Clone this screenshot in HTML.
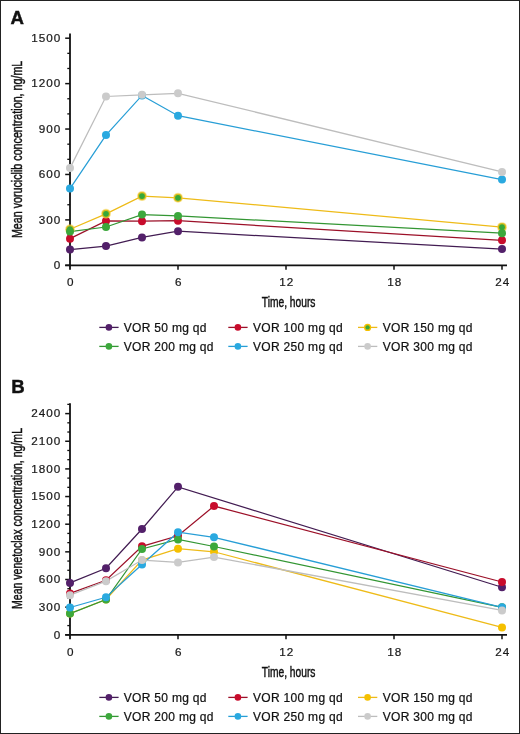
<!DOCTYPE html><html><head><meta charset="utf-8"><style>html,body{margin:0;padding:0;background:#fff;}svg{display:block;will-change:transform;}</style></head><body>
<svg width="520" height="734" viewBox="0 0 520 734">
<rect x="0" y="0" width="520" height="734" fill="#fff"/>
<rect x="0.5" y="0.5" width="519" height="733" fill="none" stroke="#222" stroke-width="1"/>
<g stroke="#111" fill="none">
<line x1="70" y1="33.6" x2="70" y2="269.8" stroke-width="1.8"/>
<line x1="65.2" y1="265.3" x2="507" y2="265.3" stroke-width="1.8"/>
<line x1="65.2" y1="265.30" x2="70" y2="265.30" stroke-width="1.5"/>
<line x1="65.2" y1="219.88" x2="70" y2="219.88" stroke-width="1.5"/>
<line x1="65.2" y1="174.46" x2="70" y2="174.46" stroke-width="1.5"/>
<line x1="65.2" y1="129.04" x2="70" y2="129.04" stroke-width="1.5"/>
<line x1="65.2" y1="83.62" x2="70" y2="83.62" stroke-width="1.5"/>
<line x1="65.2" y1="38.20" x2="70" y2="38.20" stroke-width="1.5"/>
<line x1="67.3" y1="250.16" x2="70" y2="250.16" stroke-width="1.3"/>
<line x1="67.3" y1="235.02" x2="70" y2="235.02" stroke-width="1.3"/>
<line x1="67.3" y1="204.74" x2="70" y2="204.74" stroke-width="1.3"/>
<line x1="67.3" y1="189.60" x2="70" y2="189.60" stroke-width="1.3"/>
<line x1="67.3" y1="159.32" x2="70" y2="159.32" stroke-width="1.3"/>
<line x1="67.3" y1="144.18" x2="70" y2="144.18" stroke-width="1.3"/>
<line x1="67.3" y1="113.90" x2="70" y2="113.90" stroke-width="1.3"/>
<line x1="67.3" y1="98.76" x2="70" y2="98.76" stroke-width="1.3"/>
<line x1="67.3" y1="68.48" x2="70" y2="68.48" stroke-width="1.3"/>
<line x1="67.3" y1="53.34" x2="70" y2="53.34" stroke-width="1.3"/>
<line x1="178.0" y1="265.3" x2="178.0" y2="269.8" stroke-width="1.5"/>
<line x1="286.0" y1="265.3" x2="286.0" y2="269.8" stroke-width="1.5"/>
<line x1="394.0" y1="265.3" x2="394.0" y2="269.8" stroke-width="1.5"/>
<line x1="502.0" y1="265.3" x2="502.0" y2="269.8" stroke-width="1.5"/>
</g>
<g font-family='"Liberation Sans", sans-serif' font-size="11.7" fill="#1a1a1a" stroke="#1a1a1a" stroke-width="0.22" letter-spacing="1.0">
<text x="61.3" y="269.10" text-anchor="end">0</text>
<text x="61.3" y="223.68" text-anchor="end">300</text>
<text x="61.3" y="178.26" text-anchor="end">600</text>
<text x="61.3" y="132.84" text-anchor="end">900</text>
<text x="61.3" y="87.42" text-anchor="end">1200</text>
<text x="61.3" y="42.00" text-anchor="end">1500</text>
<text x="70.75" y="285.70" text-anchor="middle">0</text>
<text x="178.75" y="285.70" text-anchor="middle">6</text>
<text x="286.75" y="285.70" text-anchor="middle">12</text>
<text x="394.75" y="285.70" text-anchor="middle">18</text>
<text x="502.75" y="285.70" text-anchor="middle">24</text>
</g>
<polyline points="70.00,249.55 106.00,246.07 142.00,237.44 178.00,231.24 502.00,249.10" fill="none" stroke="#421c52" stroke-width="1.25"/>
<polyline points="70.00,238.65 106.00,220.94 142.00,221.24 178.00,220.64 502.00,240.32" fill="none" stroke="#9c1028" stroke-width="1.25"/>
<polyline points="70.00,229.27 106.00,213.82 142.00,196.11 178.00,197.78 502.00,227.15" fill="none" stroke="#eebb18" stroke-width="1.25"/>
<polyline points="70.00,231.54 106.00,227.00 142.00,214.58 178.00,215.94 502.00,233.20" fill="none" stroke="#339633" stroke-width="1.25"/>
<polyline points="70.00,188.54 106.00,135.10 142.00,95.43 178.00,115.72 502.00,179.61" fill="none" stroke="#279ed6" stroke-width="1.25"/>
<polyline points="70.00,168.10 106.00,96.49 142.00,94.82 178.00,93.31 502.00,171.89" fill="none" stroke="#bdbdbd" stroke-width="1.25"/>
<circle cx="70.00" cy="249.55" r="4.0" fill="#53206a"/>
<circle cx="106.00" cy="246.07" r="4.0" fill="#53206a"/>
<circle cx="142.00" cy="237.44" r="4.0" fill="#53206a"/>
<circle cx="178.00" cy="231.24" r="4.0" fill="#53206a"/>
<circle cx="502.00" cy="249.10" r="4.0" fill="#53206a"/>
<circle cx="70.00" cy="238.65" r="4.0" fill="#c80c2c"/>
<circle cx="106.00" cy="220.94" r="4.0" fill="#c80c2c"/>
<circle cx="142.00" cy="221.24" r="4.0" fill="#c80c2c"/>
<circle cx="178.00" cy="220.64" r="4.0" fill="#c80c2c"/>
<circle cx="502.00" cy="240.32" r="4.0" fill="#c80c2c"/>
<circle cx="70.00" cy="229.27" r="5.0" fill="#f6d040" fill-opacity="0.55"/>
<circle cx="70.00" cy="229.27" r="4.1" fill="#d8bc1c"/>
<circle cx="70.00" cy="229.27" r="2.9" fill="#36a83a"/>
<circle cx="106.00" cy="213.82" r="5.0" fill="#f6d040" fill-opacity="0.55"/>
<circle cx="106.00" cy="213.82" r="4.1" fill="#d8bc1c"/>
<circle cx="106.00" cy="213.82" r="2.9" fill="#36a83a"/>
<circle cx="142.00" cy="196.11" r="5.0" fill="#f6d040" fill-opacity="0.55"/>
<circle cx="142.00" cy="196.11" r="4.1" fill="#d8bc1c"/>
<circle cx="142.00" cy="196.11" r="2.9" fill="#36a83a"/>
<circle cx="178.00" cy="197.78" r="5.0" fill="#f6d040" fill-opacity="0.55"/>
<circle cx="178.00" cy="197.78" r="4.1" fill="#d8bc1c"/>
<circle cx="178.00" cy="197.78" r="2.9" fill="#36a83a"/>
<circle cx="502.00" cy="227.15" r="5.0" fill="#f6d040" fill-opacity="0.55"/>
<circle cx="502.00" cy="227.15" r="4.1" fill="#d8bc1c"/>
<circle cx="502.00" cy="227.15" r="2.9" fill="#36a83a"/>
<circle cx="70.00" cy="231.54" r="4.0" fill="#3ca83c"/>
<circle cx="106.00" cy="227.00" r="4.0" fill="#3ca83c"/>
<circle cx="142.00" cy="214.58" r="4.0" fill="#3ca83c"/>
<circle cx="178.00" cy="215.94" r="4.0" fill="#3ca83c"/>
<circle cx="502.00" cy="233.20" r="4.0" fill="#3ca83c"/>
<circle cx="70.00" cy="188.54" r="4.0" fill="#2aa9e0"/>
<circle cx="106.00" cy="135.10" r="4.0" fill="#2aa9e0"/>
<circle cx="142.00" cy="95.43" r="4.0" fill="#2aa9e0"/>
<circle cx="178.00" cy="115.72" r="4.0" fill="#2aa9e0"/>
<circle cx="502.00" cy="179.61" r="4.0" fill="#2aa9e0"/>
<circle cx="70.00" cy="168.10" r="4.0" fill="#cbcbcb"/>
<circle cx="106.00" cy="96.49" r="4.0" fill="#cbcbcb"/>
<circle cx="142.00" cy="94.82" r="4.0" fill="#cbcbcb"/>
<circle cx="178.00" cy="93.31" r="4.0" fill="#cbcbcb"/>
<circle cx="502.00" cy="171.89" r="4.0" fill="#cbcbcb"/>
<text transform="translate(22.2,149.40) rotate(-90) scale(0.75,1)" font-family='"Liberation Sans", sans-serif' font-size="14.3" fill="#111" stroke="#111" stroke-width="0.45" text-anchor="middle">Mean voruciclib concentration, ng/mL</text>
<text transform="translate(288.6,306.50) scale(0.732,1)" font-family='"Liberation Sans", sans-serif' font-size="14" fill="#111" stroke="#111" stroke-width="0.45" text-anchor="middle">Time, hours</text>
<text x="10.6" y="23.60" font-family='"Liberation Sans", sans-serif' font-size="18.6" font-weight="bold" fill="#111" stroke="#111" stroke-width="0.45">A</text>
<line x1="99.3" y1="327.4" x2="118.6" y2="327.4" stroke="#421c52" stroke-width="1.3"/>
<circle cx="108.89999999999999" cy="327.4" r="3.3" fill="#53206a"/>
<text x="123.8" y="331.60" font-family='"Liberation Sans", sans-serif' font-size="12" letter-spacing="0.3" fill="#111" stroke="#111" stroke-width="0.22">VOR 50 mg qd</text>
<line x1="228.3" y1="327.4" x2="247.60000000000002" y2="327.4" stroke="#9c1028" stroke-width="1.3"/>
<circle cx="237.9" cy="327.4" r="3.3" fill="#c80c2c"/>
<text x="253" y="331.60" font-family='"Liberation Sans", sans-serif' font-size="12" letter-spacing="0.3" fill="#111" stroke="#111" stroke-width="0.22">VOR 100 mg qd</text>
<line x1="358" y1="327.4" x2="377.3" y2="327.4" stroke="#eebb18" stroke-width="1.3"/>
<circle cx="367.6" cy="327.4" r="3.6" fill="#f5c000"/>
<circle cx="367.6" cy="327.4" r="2.2" fill="#3ca83c"/>
<text x="382.8" y="331.60" font-family='"Liberation Sans", sans-serif' font-size="12" letter-spacing="0.3" fill="#111" stroke="#111" stroke-width="0.22">VOR 150 mg qd</text>
<line x1="99.3" y1="346.4" x2="118.6" y2="346.4" stroke="#339633" stroke-width="1.3"/>
<circle cx="108.89999999999999" cy="346.4" r="3.3" fill="#3ca83c"/>
<text x="123.8" y="350.60" font-family='"Liberation Sans", sans-serif' font-size="12" letter-spacing="0.3" fill="#111" stroke="#111" stroke-width="0.22">VOR 200 mg qd</text>
<line x1="228.3" y1="346.4" x2="247.60000000000002" y2="346.4" stroke="#279ed6" stroke-width="1.3"/>
<circle cx="237.9" cy="346.4" r="3.3" fill="#2aa9e0"/>
<text x="253" y="350.60" font-family='"Liberation Sans", sans-serif' font-size="12" letter-spacing="0.3" fill="#111" stroke="#111" stroke-width="0.22">VOR 250 mg qd</text>
<line x1="358" y1="346.4" x2="377.3" y2="346.4" stroke="#bdbdbd" stroke-width="1.3"/>
<circle cx="367.6" cy="346.4" r="3.3" fill="#cbcbcb"/>
<text x="382.8" y="350.60" font-family='"Liberation Sans", sans-serif' font-size="12" letter-spacing="0.3" fill="#111" stroke="#111" stroke-width="0.22">VOR 300 mg qd</text>
<g stroke="#111" fill="none">
<line x1="70" y1="403.3" x2="70" y2="639.3" stroke-width="1.8"/>
<line x1="65.2" y1="634.8" x2="507" y2="634.8" stroke-width="1.8"/>
<line x1="65.2" y1="634.80" x2="70" y2="634.80" stroke-width="1.5"/>
<line x1="65.2" y1="607.15" x2="70" y2="607.15" stroke-width="1.5"/>
<line x1="65.2" y1="579.50" x2="70" y2="579.50" stroke-width="1.5"/>
<line x1="65.2" y1="551.85" x2="70" y2="551.85" stroke-width="1.5"/>
<line x1="65.2" y1="524.20" x2="70" y2="524.20" stroke-width="1.5"/>
<line x1="65.2" y1="496.55" x2="70" y2="496.55" stroke-width="1.5"/>
<line x1="65.2" y1="468.90" x2="70" y2="468.90" stroke-width="1.5"/>
<line x1="65.2" y1="441.25" x2="70" y2="441.25" stroke-width="1.5"/>
<line x1="65.2" y1="413.60" x2="70" y2="413.60" stroke-width="1.5"/>
<line x1="67.3" y1="625.58" x2="70" y2="625.58" stroke-width="1.3"/>
<line x1="67.3" y1="616.37" x2="70" y2="616.37" stroke-width="1.3"/>
<line x1="67.3" y1="597.93" x2="70" y2="597.93" stroke-width="1.3"/>
<line x1="67.3" y1="588.72" x2="70" y2="588.72" stroke-width="1.3"/>
<line x1="67.3" y1="570.28" x2="70" y2="570.28" stroke-width="1.3"/>
<line x1="67.3" y1="561.07" x2="70" y2="561.07" stroke-width="1.3"/>
<line x1="67.3" y1="542.63" x2="70" y2="542.63" stroke-width="1.3"/>
<line x1="67.3" y1="533.42" x2="70" y2="533.42" stroke-width="1.3"/>
<line x1="67.3" y1="514.98" x2="70" y2="514.98" stroke-width="1.3"/>
<line x1="67.3" y1="505.77" x2="70" y2="505.77" stroke-width="1.3"/>
<line x1="67.3" y1="487.33" x2="70" y2="487.33" stroke-width="1.3"/>
<line x1="67.3" y1="478.12" x2="70" y2="478.12" stroke-width="1.3"/>
<line x1="67.3" y1="459.68" x2="70" y2="459.68" stroke-width="1.3"/>
<line x1="67.3" y1="450.47" x2="70" y2="450.47" stroke-width="1.3"/>
<line x1="67.3" y1="432.03" x2="70" y2="432.03" stroke-width="1.3"/>
<line x1="67.3" y1="422.82" x2="70" y2="422.82" stroke-width="1.3"/>
<line x1="67.3" y1="404.38" x2="70" y2="404.38" stroke-width="1.3"/>
<line x1="178.0" y1="634.8" x2="178.0" y2="639.3" stroke-width="1.5"/>
<line x1="286.0" y1="634.8" x2="286.0" y2="639.3" stroke-width="1.5"/>
<line x1="394.0" y1="634.8" x2="394.0" y2="639.3" stroke-width="1.5"/>
<line x1="502.0" y1="634.8" x2="502.0" y2="639.3" stroke-width="1.5"/>
</g>
<g font-family='"Liberation Sans", sans-serif' font-size="11.7" fill="#1a1a1a" stroke="#1a1a1a" stroke-width="0.22" letter-spacing="1.0">
<text x="61.3" y="638.60" text-anchor="end">0</text>
<text x="61.3" y="610.95" text-anchor="end">300</text>
<text x="61.3" y="583.30" text-anchor="end">600</text>
<text x="61.3" y="555.65" text-anchor="end">900</text>
<text x="61.3" y="528.00" text-anchor="end">1200</text>
<text x="61.3" y="500.35" text-anchor="end">1500</text>
<text x="61.3" y="472.70" text-anchor="end">1800</text>
<text x="61.3" y="445.05" text-anchor="end">2100</text>
<text x="61.3" y="417.40" text-anchor="end">2400</text>
<text x="70.75" y="655.80" text-anchor="middle">0</text>
<text x="178.75" y="655.80" text-anchor="middle">6</text>
<text x="286.75" y="655.80" text-anchor="middle">12</text>
<text x="394.75" y="655.80" text-anchor="middle">18</text>
<text x="502.75" y="655.80" text-anchor="middle">24</text>
</g>
<polyline points="70.00,613.51 106.00,599.50 142.00,560.14 178.00,548.72 214.00,551.76 502.00,627.43" fill="none" stroke="#eebb18" stroke-width="1.25"/>
<polyline points="70.00,582.91 106.00,568.26 142.00,528.99 178.00,486.87 502.00,587.24" fill="none" stroke="#421c52" stroke-width="1.25"/>
<polyline points="70.00,593.42 106.00,580.24 142.00,546.32 178.00,535.81 214.00,506.04 502.00,581.99" fill="none" stroke="#9c1028" stroke-width="1.25"/>
<polyline points="70.00,613.60 106.00,599.59 142.00,548.99 178.00,539.50 214.00,546.50 502.00,607.33" fill="none" stroke="#339633" stroke-width="1.25"/>
<polyline points="70.00,607.52 106.00,597.29 142.00,564.57 178.00,532.22 214.00,537.29 502.00,607.33" fill="none" stroke="#279ed6" stroke-width="1.25"/>
<polyline points="70.00,595.17 106.00,581.16 142.00,560.05 178.00,562.45 214.00,557.10 502.00,610.38" fill="none" stroke="#bdbdbd" stroke-width="1.25"/>
<circle cx="70.00" cy="613.51" r="4.0" fill="#f5c000"/>
<circle cx="106.00" cy="599.50" r="4.0" fill="#f5c000"/>
<circle cx="142.00" cy="560.14" r="4.0" fill="#f5c000"/>
<circle cx="178.00" cy="548.72" r="4.0" fill="#f5c000"/>
<circle cx="214.00" cy="551.76" r="4.0" fill="#f5c000"/>
<circle cx="502.00" cy="627.43" r="4.0" fill="#f5c000"/>
<circle cx="70.00" cy="582.91" r="4.0" fill="#53206a"/>
<circle cx="106.00" cy="568.26" r="4.0" fill="#53206a"/>
<circle cx="142.00" cy="528.99" r="4.0" fill="#53206a"/>
<circle cx="178.00" cy="486.87" r="4.0" fill="#53206a"/>
<circle cx="502.00" cy="587.24" r="4.0" fill="#53206a"/>
<circle cx="70.00" cy="593.42" r="4.0" fill="#c80c2c"/>
<circle cx="106.00" cy="580.24" r="4.0" fill="#c80c2c"/>
<circle cx="142.00" cy="546.32" r="4.0" fill="#c80c2c"/>
<circle cx="178.00" cy="535.81" r="4.0" fill="#c80c2c"/>
<circle cx="214.00" cy="506.04" r="4.0" fill="#c80c2c"/>
<circle cx="502.00" cy="581.99" r="4.0" fill="#c80c2c"/>
<circle cx="70.00" cy="613.60" r="4.0" fill="#3ca83c"/>
<circle cx="106.00" cy="599.59" r="4.0" fill="#3ca83c"/>
<circle cx="142.00" cy="548.99" r="4.0" fill="#3ca83c"/>
<circle cx="178.00" cy="539.50" r="4.0" fill="#3ca83c"/>
<circle cx="214.00" cy="546.50" r="4.0" fill="#3ca83c"/>
<circle cx="502.00" cy="607.33" r="4.0" fill="#3ca83c"/>
<circle cx="70.00" cy="607.52" r="4.0" fill="#2aa9e0"/>
<circle cx="106.00" cy="597.29" r="4.0" fill="#2aa9e0"/>
<circle cx="142.00" cy="564.57" r="4.0" fill="#2aa9e0"/>
<circle cx="178.00" cy="532.22" r="4.0" fill="#2aa9e0"/>
<circle cx="214.00" cy="537.29" r="4.0" fill="#2aa9e0"/>
<circle cx="502.00" cy="607.33" r="4.0" fill="#2aa9e0"/>
<circle cx="70.00" cy="595.17" r="4.0" fill="#cbcbcb"/>
<circle cx="106.00" cy="581.16" r="4.0" fill="#cbcbcb"/>
<circle cx="142.00" cy="560.05" r="4.0" fill="#cbcbcb"/>
<circle cx="178.00" cy="562.45" r="4.0" fill="#cbcbcb"/>
<circle cx="214.00" cy="557.10" r="4.0" fill="#cbcbcb"/>
<circle cx="502.00" cy="610.38" r="4.0" fill="#cbcbcb"/>
<text transform="translate(22.2,518.50) rotate(-90) scale(0.738,1)" font-family='"Liberation Sans", sans-serif' font-size="14.3" fill="#111" stroke="#111" stroke-width="0.45" text-anchor="middle">Mean venetoclax concentration, ng/mL</text>
<text transform="translate(288.6,676.50) scale(0.732,1)" font-family='"Liberation Sans", sans-serif' font-size="14" fill="#111" stroke="#111" stroke-width="0.45" text-anchor="middle">Time, hours</text>
<text x="11.3" y="393.10" font-family='"Liberation Sans", sans-serif' font-size="18.6" font-weight="bold" fill="#111" stroke="#111" stroke-width="0.45">B</text>
<line x1="99.3" y1="697.4" x2="118.6" y2="697.4" stroke="#421c52" stroke-width="1.3"/>
<circle cx="108.89999999999999" cy="697.4" r="3.3" fill="#53206a"/>
<text x="123.8" y="701.60" font-family='"Liberation Sans", sans-serif' font-size="12" letter-spacing="0.3" fill="#111" stroke="#111" stroke-width="0.22">VOR 50 mg qd</text>
<line x1="228.3" y1="697.4" x2="247.60000000000002" y2="697.4" stroke="#9c1028" stroke-width="1.3"/>
<circle cx="237.9" cy="697.4" r="3.3" fill="#c80c2c"/>
<text x="253" y="701.60" font-family='"Liberation Sans", sans-serif' font-size="12" letter-spacing="0.3" fill="#111" stroke="#111" stroke-width="0.22">VOR 100 mg qd</text>
<line x1="358" y1="697.4" x2="377.3" y2="697.4" stroke="#eebb18" stroke-width="1.3"/>
<circle cx="367.6" cy="697.4" r="3.3" fill="#f5c000"/>
<text x="382.8" y="701.60" font-family='"Liberation Sans", sans-serif' font-size="12" letter-spacing="0.3" fill="#111" stroke="#111" stroke-width="0.22">VOR 150 mg qd</text>
<line x1="99.3" y1="716.4" x2="118.6" y2="716.4" stroke="#339633" stroke-width="1.3"/>
<circle cx="108.89999999999999" cy="716.4" r="3.3" fill="#3ca83c"/>
<text x="123.8" y="720.60" font-family='"Liberation Sans", sans-serif' font-size="12" letter-spacing="0.3" fill="#111" stroke="#111" stroke-width="0.22">VOR 200 mg qd</text>
<line x1="228.3" y1="716.4" x2="247.60000000000002" y2="716.4" stroke="#279ed6" stroke-width="1.3"/>
<circle cx="237.9" cy="716.4" r="3.3" fill="#2aa9e0"/>
<text x="253" y="720.60" font-family='"Liberation Sans", sans-serif' font-size="12" letter-spacing="0.3" fill="#111" stroke="#111" stroke-width="0.22">VOR 250 mg qd</text>
<line x1="358" y1="716.4" x2="377.3" y2="716.4" stroke="#bdbdbd" stroke-width="1.3"/>
<circle cx="367.6" cy="716.4" r="3.3" fill="#cbcbcb"/>
<text x="382.8" y="720.60" font-family='"Liberation Sans", sans-serif' font-size="12" letter-spacing="0.3" fill="#111" stroke="#111" stroke-width="0.22">VOR 300 mg qd</text>
</svg></body></html>
